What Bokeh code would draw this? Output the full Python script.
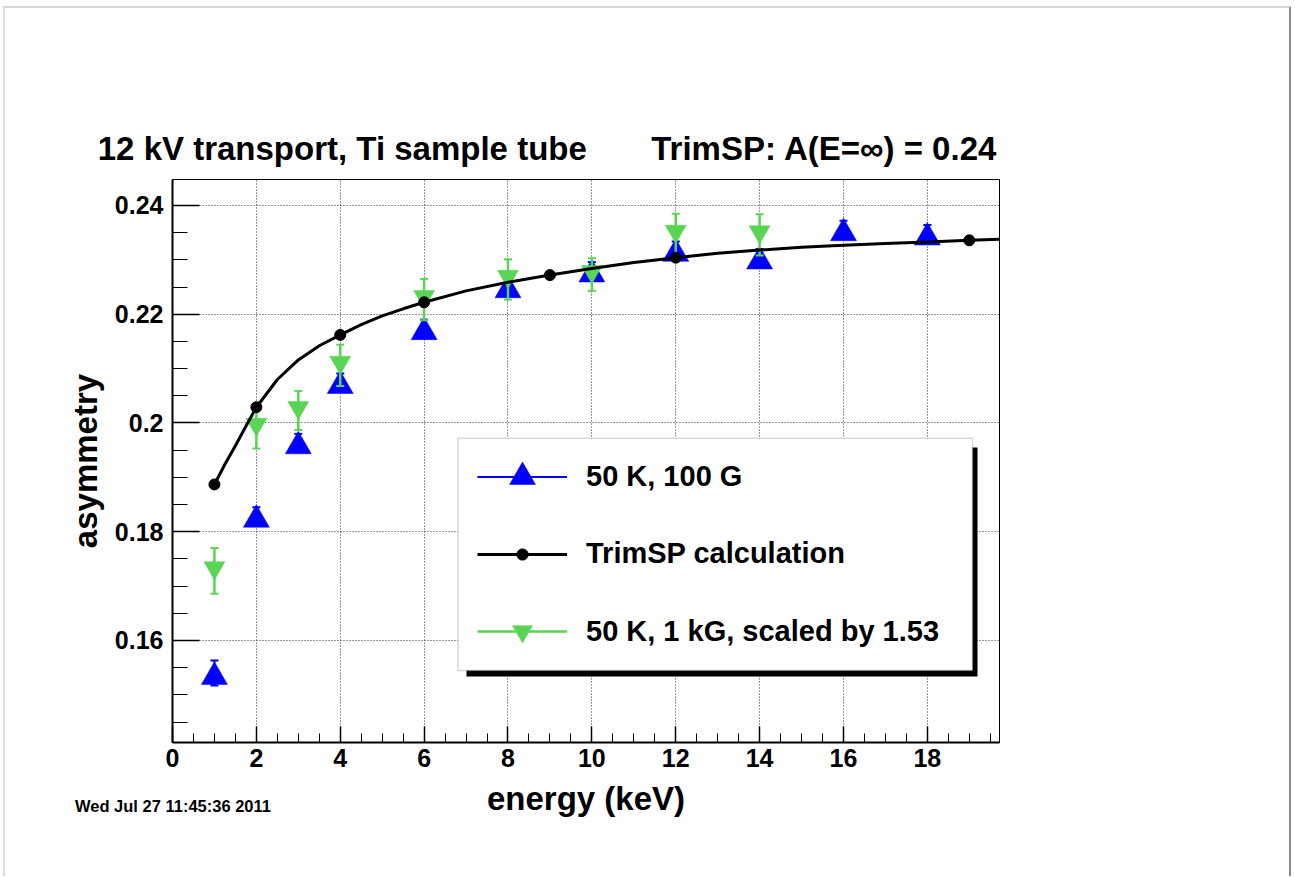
import math
from bokeh.plotting import figure
from bokeh.models import (Range1d, SingleIntervalTicker, FixedTicker, CustomJSTickFormatter,
                          LinearAxis, Legend, LegendItem, BoxAnnotation, ColumnDataSource)
from bokeh.transform import dodge
from bokeh.embed import file_html
from bokeh.resources import INLINE

# ---------------- data ----------------
trim_x = [1, 2, 4, 6, 9, 12, 19]
trim_y = [0.1887, 0.2029, 0.2162, 0.2222, 0.2272, 0.2304, 0.2336]

curve_x = [1, 1.25, 1.5, 1.75, 2, 2.5, 3, 3.5, 4, 4.5, 5, 5.5, 6, 7, 8, 9,
           10, 11, 12, 13, 14, 15, 16, 17, 18, 19, 19.72]
curve_y = [0.1887, 0.1924, 0.1958, 0.1994, 0.2029, 0.2080, 0.2116, 0.2142,
           0.2162, 0.2181, 0.2197, 0.2210, 0.2222, 0.2243, 0.2259, 0.2272,
           0.2284, 0.2295, 0.2304, 0.2312, 0.2318, 0.2323, 0.2327, 0.2330,
           0.2333, 0.2336, 0.2338]

blue_x = [1, 2, 3, 4, 6, 8, 10, 12, 14, 16, 18]
blue_y = [0.1540, 0.1829, 0.1964, 0.2075, 0.2174, 0.2251, 0.2280, 0.2318,
          0.2304, 0.2356, 0.2348]
blue_err = [0.0023, 0.0016, 0.0016, 0.0016, 0.0016, 0.0016, 0.0016, 0.0016,
            0.0016, 0.0016, 0.0016]

green_x = [1, 2, 3, 4, 6, 8, 10, 12, 14]
green_y = [0.1728, 0.1992, 0.2023, 0.2106, 0.2227, 0.2264, 0.2273, 0.2347, 0.2346]
green_err = [0.0042, 0.0039, 0.0036, 0.0038, 0.0038, 0.0037, 0.0030, 0.0038, 0.0038]

y_ticks = [0.16, 0.18, 0.20, 0.22, 0.24]
y_tick_labels = ["0.16", "0.18", "0.2", "0.22", "0.24"]

label_blue = "50 K, 100 G"
label_trim = "TrimSP calculation"
label_green = "50 K, 1 kG, scaled by 1.53"
title_left = "12 kV transport, Ti sample tube"
title_right = "TrimSP: A(E=\u221e) = 0.24"
stamp = "Wed Jul 27 11:45:36 2011"

# ---------------- layout ----------------
FONT = "Liberation Sans"
X0, X1 = 0.0, 19.72
Y0, Y1 = 0.14124, 0.24478
FW, FH = 827, 563
ML, MT = 172, 179          # frame position on the page
OX, OY = 5, 8              # page position of the figure content (after margin + border)

p = figure(output_backend="svg", toolbar_location=None,
           frame_width=FW, frame_height=FH,
           min_border_left=ML - OX, min_border_top=MT - OY,
           min_border_right=290, min_border_bottom=134,
           x_range=Range1d(X0, X1), y_range=Range1d(Y0, Y1))
p.styles = {"margin-left": "3px", "margin-top": "6px",
            "border-left": "2px solid #dedede", "border-top": "2px solid #d6d6d6",
            "border-right": "2px solid #8a8a8a"}
p.background_fill_color = "white"
p.border_fill_color = "white"
p.outline_line_color = "black"
p.outline_line_width = 1
# pixel-valued helper range used only to place the header / footer texts
p.extra_x_ranges = {"px": Range1d(ML, ML + FW)}

# axes
p.xaxis.ticker = SingleIntervalTicker(interval=2, num_minor_ticks=4)
p.yaxis.ticker = SingleIntervalTicker(interval=0.02, num_minor_ticks=4)
p.yaxis.formatter = CustomJSTickFormatter(
    args=dict(yt=y_ticks, yl=y_tick_labels),
    code="for (let i = 0; i < yt.length; i++) { if (Math.abs(tick - yt[i]) < 1e-9) return yl[i]; } return '';")

for ax in (p.xaxis[0], p.yaxis[0]):
    ax.axis_line_color = "black"
    ax.axis_line_width = 2
    ax.major_tick_out = 0
    ax.minor_tick_out = 0
    ax.major_tick_line_color = "black"
    ax.minor_tick_line_color = "black"
    ax.major_tick_line_width = 1.5
    ax.minor_tick_line_width = 1
    ax.major_label_text_font = FONT
    ax.major_label_text_font_style = "bold"
    ax.major_label_text_font_size = "25px"
    ax.major_label_text_color = "black"
    ax.axis_label_text_font = FONT
    ax.axis_label_text_font_style = "bold"
    ax.axis_label_text_font_size = "33px"
    ax.axis_label_text_color = "black"

p.xaxis.major_tick_in = 16
p.xaxis.minor_tick_in = 9
p.yaxis.major_tick_in = 27
p.yaxis.minor_tick_in = 15
p.xaxis.major_label_standoff = 6
p.yaxis.major_label_standoff = 9
p.xaxis.axis_label = "energy (keV)"
p.yaxis.axis_label = "asymmetry"
p.xaxis.axis_label_standoff = 10
p.yaxis.axis_label_standoff = 8

for g in (p.xgrid[0], p.ygrid[0]):
    g.grid_line_color = "#333333"
    g.grid_line_dash = "1 2"
    g.grid_line_width = 1


def text_axis(texts, centers, size, standoff):
    ax = LinearAxis(x_range_name="px",
                    ticker=FixedTicker(ticks=centers, minor_ticks=[]),
                    formatter=CustomJSTickFormatter(
                        args=dict(c=centers, t=texts),
                        code="for (let i = 0; i < c.length; i++) { if (Math.abs(tick - c[i]) < 0.5) return t[i]; } return '';"),
                    axis_line_alpha=0, major_tick_in=0, major_tick_out=0,
                    minor_tick_in=0, minor_tick_out=0,
                    major_label_standoff=standoff,
                    major_label_text_font=FONT, major_label_text_font_style="bold",
                    major_label_text_font_size=size, major_label_text_color="black")
    return ax


# header texts (centres in page pixels)
p.add_layout(text_axis([title_left, title_right], [341.8, 823.9], "33px", 13), "above")
# time stamp below the x axis
p.add_layout(text_axis([stamp], [172.5], "16.5px", -23), "below")

# marker offsets so the triangles are centred at mid-height like the original
px_per_y = FH / (Y1 - Y0)
BLUE_SIZE = 26
GREEN_SIZE = 21
blue_shift = -(BLUE_SIZE * math.sqrt(3) / 2 / 6) / px_per_y
green_shift = (GREEN_SIZE * math.sqrt(3) / 2 / 6) / px_per_y

BLUE = "#0000ff"
GREEN = "#59d454"

blue_src = ColumnDataSource(dict(x=blue_x, y=blue_y,
                                 lo=[v - e for v, e in zip(blue_y, blue_err)],
                                 hi=[v + e for v, e in zip(blue_y, blue_err)]))
green_src = ColumnDataSource(dict(x=green_x, y=green_y,
                                  lo=[v - e for v, e in zip(green_y, green_err)],
                                  hi=[v + e for v, e in zip(green_y, green_err)]))

# blue series
blue_seg = p.segment(x0="x", y0="lo", x1="x", y1="hi", source=blue_src, line_color=BLUE, line_width=2)
p.scatter(x="x", y="hi", source=blue_src, marker="dash", size=8, line_color=BLUE, line_width=2)
p.scatter(x="x", y="lo", source=blue_src, marker="dash", size=8, line_color=BLUE, line_width=2)
blue_sc = p.scatter(x="x", y=dodge("y", blue_shift, range=p.y_range), source=blue_src,
                    marker="triangle", size=BLUE_SIZE, fill_color=BLUE, line_color=BLUE, line_width=0.5)

# green series
green_seg = p.segment(x0="x", y0="lo", x1="x", y1="hi", source=green_src, line_color=GREEN, line_width=2.5)
p.scatter(x="x", y="hi", source=green_src, marker="dash", size=8, line_color=GREEN, line_width=2)
p.scatter(x="x", y="lo", source=green_src, marker="dash", size=8, line_color=GREEN, line_width=2)
green_sc = p.scatter(x="x", y=dodge("y", green_shift, range=p.y_range), source=green_src,
                     marker="inverted_triangle", size=GREEN_SIZE, fill_color=GREEN,
                     line_color=GREEN, line_width=0.5)

# TrimSP curve
curve = p.line(curve_x, curve_y, line_color="black", line_width=3)
trim_sc = p.scatter(trim_x, trim_y, marker="circle", size=11, fill_color="black", line_color="black")

# legend box with shadow (screen units, relative to the frame)
shadow = BoxAnnotation(left=294, right=805, top=295, bottom=66,
                       left_units="screen", right_units="screen",
                       top_units="screen", bottom_units="screen",
                       fill_color="black", fill_alpha=1, line_alpha=0)
box = BoxAnnotation(left=285.5, right=800, top=304.3, bottom=72,
                    left_units="screen", right_units="screen",
                    top_units="screen", bottom_units="screen",
                    fill_color="white", fill_alpha=1, line_color="#7f7f7f", line_width=1.5)
p.add_layout(shadow)
p.add_layout(box)


def make_legend(label, renderers, cy, gh):
    lg = Legend(items=[LegendItem(label=label, renderers=renderers)],
                location=(305, cy - gh / 2), glyph_width=90, glyph_height=gh,
                label_standoff=19, padding=0, margin=0, spacing=0,
                border_line_alpha=0, background_fill_alpha=0,
                label_text_font=FONT, label_text_font_style="bold",
                label_text_font_size="29px", label_text_color="black",
                label_height=int(gh))
    p.add_layout(lg, "center")


make_legend(label_blue, [blue_seg, blue_sc], 266, 65)
make_legend(label_trim, [curve, trim_sc], 186, 28)
make_legend(label_green, [green_seg, green_sc], 111, 50)

open("out.html", "w").write(file_html(p, INLINE))
